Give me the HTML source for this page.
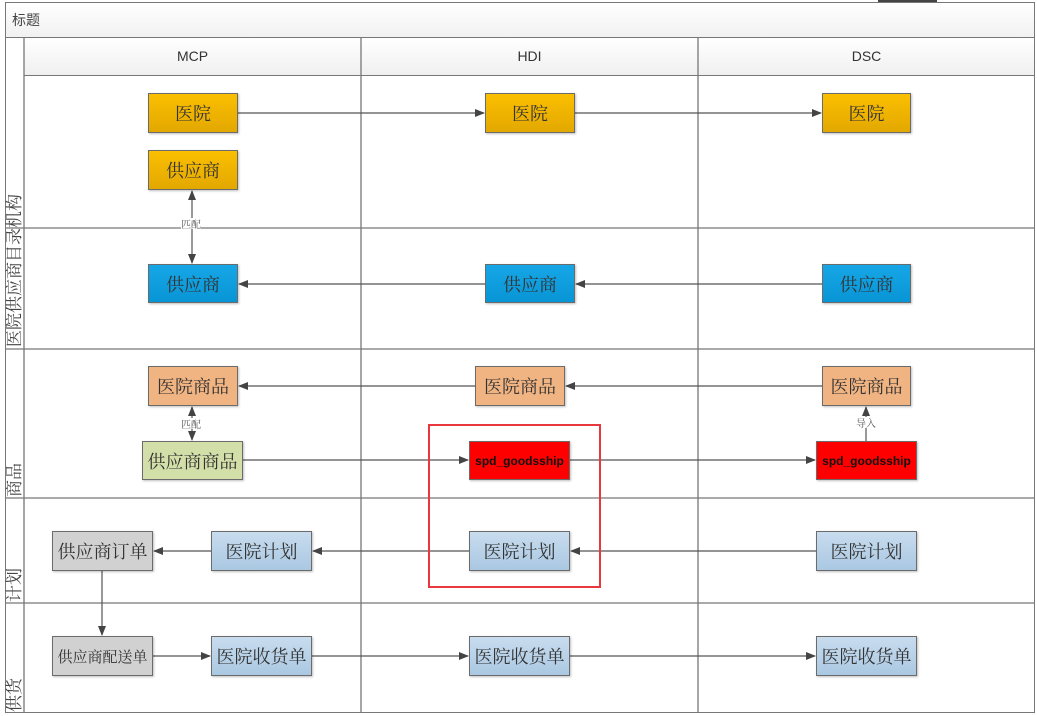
<!DOCTYPE html>
<html><head><meta charset="utf-8"><style>
body{margin:0;width:1037px;height:716px;background:#fff;position:relative;overflow:hidden;font-family:"Liberation Sans","Noto Sans CJK SC",sans-serif}
.a{position:absolute;box-sizing:border-box}
.b{position:absolute;box-sizing:border-box;border:1px solid #6b6b6b;display:flex;align-items:center;justify-content:center;font-family:"Liberation Serif","Noto Serif CJK SC",serif;font-size:18px;color:#333;box-shadow:1px 1px 2px rgba(0,0,0,.25);white-space:nowrap}
.y{background:linear-gradient(#fbbf00,#e3a800)}
.bl{background:linear-gradient(#16a6e6,#0895d6)}
.o{background:#f0b382}
.g{background:#d3dfa8}
.r{background:#f00;font-family:"Liberation Sans",sans-serif;font-weight:bold;font-size:12px;color:#111}
.lb{background:linear-gradient(#c8dcee,#aac8e2)}
.gr{background:#d1d1d1}
.hd{font-size:14px;color:#333;text-align:center;line-height:37px}
.vl{position:absolute;left:5px;height:19px;transform-origin:0 0;transform:rotate(-90deg);font-family:"Liberation Serif","Noto Serif CJK SC",serif;font-size:17px;color:#444;line-height:19px;white-space:nowrap}
.lbl{position:absolute;font-size:10px;color:#555;background:#fff;font-family:"Noto Serif CJK SC",serif;line-height:11px}
</style></head><body>
<div class="a" style="left:878px;top:0;width:59px;height:4px;background:#444"></div>
<div class="a" style="left:5px;top:2px;width:1030px;height:711px;border:1px solid #777"></div>
<div class="a" style="left:6px;top:3px;width:1028px;height:35px;background:linear-gradient(#fff,#f1f1f1);border-bottom:1px solid #777;font-size:14px;color:#444;padding:7px 0 0 6px;font-family:'Liberation Sans','Noto Sans CJK SC',sans-serif">标题</div>
<div class="a" style="left:24px;top:38px;width:1010px;height:38px;background:linear-gradient(#fff,#f0f0f0);border-bottom:1px solid #777"></div>
<div class="a hd" style="left:24px;top:38px;width:337px">MCP</div>
<div class="a hd" style="left:361px;top:38px;width:337px">HDI</div>
<div class="a hd" style="left:698px;top:38px;width:337px">DSC</div>
<svg class="a" style="left:0;top:0" width="1037" height="716">
<defs><marker id="m" markerWidth="10" markerHeight="8" refX="9" refY="4" orient="auto" markerUnits="userSpaceOnUse"><path d="M0,0L10,4L0,8z" fill="#444"/></marker>
<marker id="ms" markerWidth="10" markerHeight="8" refX="1" refY="4" orient="auto" markerUnits="userSpaceOnUse"><path d="M10,0L0,4L10,8z" fill="#444"/></marker></defs>
<g stroke="#777" stroke-width="1.3" fill="none">
<line x1="24" y1="38" x2="24" y2="713"/>
<line x1="361" y1="38" x2="361" y2="713"/>
<line x1="698" y1="38" x2="698" y2="713"/>
<line x1="5" y1="228" x2="1035" y2="228"/>
<line x1="5" y1="349" x2="1035" y2="349"/>
<line x1="5" y1="498" x2="1035" y2="498"/>
<line x1="5" y1="603" x2="1035" y2="603"/>
</g>
<g stroke="#555" stroke-width="1.2" fill="none">
<line x1="238" y1="113" x2="484" y2="113" marker-end="url(#m)"/>
<line x1="575" y1="113" x2="821" y2="113" marker-end="url(#m)"/>
<line x1="192" y1="263" x2="192" y2="191" marker-end="url(#m)" marker-start="url(#ms)"/>
<line x1="822" y1="284" x2="576" y2="284" marker-end="url(#m)"/>
<line x1="485" y1="284" x2="239" y2="284" marker-end="url(#m)"/>
<line x1="822" y1="386" x2="566" y2="386" marker-end="url(#m)"/>
<line x1="475" y1="386" x2="239" y2="386" marker-end="url(#m)"/>
<line x1="192" y1="440" x2="192" y2="407" marker-end="url(#m)" marker-start="url(#ms)"/>
<line x1="243" y1="460" x2="468" y2="460" marker-end="url(#m)"/>
<line x1="570" y1="460" x2="815" y2="460" marker-end="url(#m)"/>
<line x1="866" y1="441" x2="866" y2="407" marker-end="url(#m)"/>
<line x1="816" y1="551" x2="571" y2="551" marker-end="url(#m)"/>
<line x1="469" y1="551" x2="313" y2="551" marker-end="url(#m)"/>
<line x1="211" y1="551" x2="154" y2="551" marker-end="url(#m)"/>
<line x1="102" y1="570" x2="102" y2="635" marker-end="url(#m)"/>
<line x1="153" y1="656" x2="210" y2="656" marker-end="url(#m)"/>
<line x1="312" y1="656" x2="468" y2="656" marker-end="url(#m)"/>
<line x1="570" y1="656" x2="815" y2="656" marker-end="url(#m)"/>
</g>
<rect x="429" y="425" width="171" height="162" fill="none" stroke="#e8383d" stroke-width="2"/>
</svg>
<div class="lbl" style="left:181px;top:218px">匹配</div>
<div class="lbl" style="left:181px;top:418px">匹配</div>
<div class="lbl" style="left:856px;top:417px">导入</div>
<div class="vl" style="top:228px;width:46px">机构</div>
<div class="vl" style="top:347px;width:118px">医院供应商目录</div>
<div class="vl" style="top:497px;width:42px">商品</div>
<div class="vl" style="top:602px;width:41px">计划</div>
<div class="vl" style="top:712px;width:43px">供货</div>
<div class="b y" style="left:148px;top:93px;width:90px;height:40px">医院</div>
<div class="b y" style="left:485px;top:93px;width:90px;height:40px">医院</div>
<div class="b y" style="left:822px;top:93px;width:89px;height:40px">医院</div>
<div class="b y" style="left:148px;top:150px;width:90px;height:40px">供应商</div>
<div class="b bl" style="left:148px;top:264px;width:90px;height:39px">供应商</div>
<div class="b bl" style="left:485px;top:264px;width:90px;height:39px">供应商</div>
<div class="b bl" style="left:822px;top:264px;width:89px;height:39px">供应商</div>
<div class="b o" style="left:148px;top:366px;width:90px;height:40px">医院商品</div>
<div class="b o" style="left:475px;top:366px;width:90px;height:40px">医院商品</div>
<div class="b o" style="left:822px;top:366px;width:89px;height:40px">医院商品</div>
<div class="b g" style="left:142px;top:441px;width:101px;height:39px">供应商商品</div>
<div class="b r" style="left:469px;top:441px;width:101px;height:39px">spd_goodsship</div>
<div class="b r" style="left:816px;top:441px;width:101px;height:39px">spd_goodsship</div>
<div class="b gr" style="left:52px;top:531px;width:101px;height:40px">供应商订单</div>
<div class="b lb" style="left:211px;top:531px;width:101px;height:40px">医院计划</div>
<div class="b lb" style="left:469px;top:531px;width:101px;height:40px">医院计划</div>
<div class="b lb" style="left:816px;top:531px;width:101px;height:40px">医院计划</div>
<div class="b gr" style="left:52px;top:636px;width:101px;height:40px;font-size:15px">供应商配送单</div>
<div class="b lb" style="left:211px;top:636px;width:101px;height:40px">医院收货单</div>
<div class="b lb" style="left:469px;top:636px;width:101px;height:40px">医院收货单</div>
<div class="b lb" style="left:816px;top:636px;width:101px;height:40px">医院收货单</div>
</body></html>
